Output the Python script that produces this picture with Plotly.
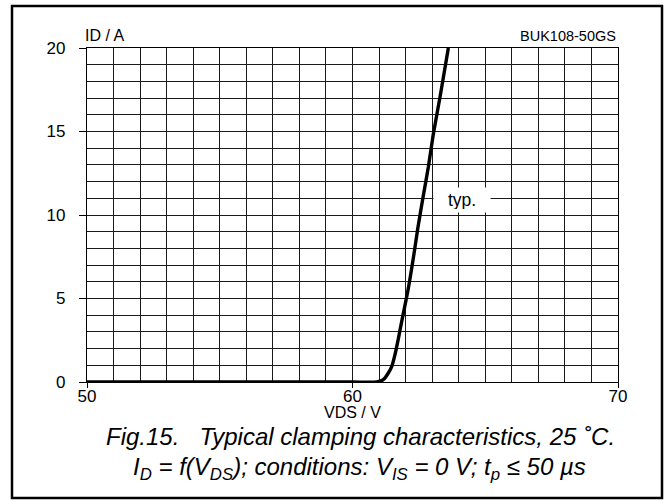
import plotly.graph_objects as go

# Data
vds = [50.0, 55.0, 60.0, 60.9, 61.16, 61.35, 61.48, 61.6, 61.72, 61.85, 62.09,
       62.28, 62.46, 62.65, 62.86, 63.04, 63.3, 63.61]
i_d = [0.0, 0.0, 0.0, 0.0, 0.14, 0.54, 0.94, 1.64, 2.54, 3.6, 5.5,
       7.3, 9.2, 11.0, 12.9, 14.8, 17.1, 20.0]

x_ticks = [50, 60, 70]
y_ticks = [0, 5, 10, 15, 20]

FONT = "Liberation Sans, Arial, sans-serif"

W, H = 665, 500
L, R, T, B = 87, 47, 48, 118
pw, ph = W - L - R, H - T - B


def px(x):
    return (x - L) / pw


def py(y):
    return (H - B - y) / ph


fig = go.Figure()
fig.add_trace(go.Scatter(x=vds, y=i_d, mode="lines",
                         line=dict(color="black", width=3.4, shape="spline", smoothing=0.6),
                         hoverinfo="skip", showlegend=False))

axis_common = dict(
    showline=True, linecolor="black", linewidth=1.2, mirror=True,
    showgrid=True, gridcolor="#1a1a1a", gridwidth=1,
    ticks="outside", tickcolor="black", tickwidth=1,
    tickfont=dict(family=FONT, size=17, color="black"),
    zeroline=False,
    minor=dict(dtick=1, showgrid=True, gridcolor="#1a1a1a", gridwidth=1, ticks=""),
)

fig.update_xaxes(range=[50, 70], tickvals=x_ticks, ticktext=[str(v) for v in x_ticks],
                 ticklen=5, ticklabelstandoff=-7, **axis_common)
fig.update_yaxes(range=[0, 20], tickvals=y_ticks, ticktext=[str(v) for v in y_ticks],
                 ticklen=7, ticklabelstandoff=10, **axis_common)

annotations = [
    dict(text="ID / A", x=px(83), y=py(36), xanchor="left", yanchor="middle",
         font=dict(family=FONT, size=16, color="black")),
    dict(text="BUK108-50GS", x=px(618), y=py(36), xanchor="right", yanchor="middle",
         font=dict(family=FONT, size=14.5, color="black")),
    dict(text="VDS / V", x=px(352), y=py(413), xanchor="center", yanchor="middle",
         font=dict(family=FONT, size=16, color="black")),
    dict(text="<i>Fig.15.   Typical clamping characteristics, 25 ˚C.</i>",
         x=px(360), y=py(436), xanchor="center", yanchor="middle",
         font=dict(family=FONT, size=24, color="black")),
    dict(text="<i>I<sub>D</sub> = f(V<sub>DS</sub>); conditions: V<sub>IS</sub> = 0 V; "
              "t<sub>p</sub> ≤ 50 µs</i>",
         x=px(359), y=py(468), xanchor="center", yanchor="middle",
         font=dict(family=FONT, size=24, color="black")),
    dict(text="typ.", x=px(461.5), y=py(200), xanchor="center", yanchor="middle",
         bgcolor="white", borderpad=3, width=50, height=18,
         font=dict(family=FONT, size=17.5, color="black")),
]
for a in annotations:
    a.update(xref="paper", yref="paper", showarrow=False)

fig.update_layout(
    width=W, height=H,
    margin=dict(l=L, r=R, t=T, b=B),
    paper_bgcolor="white", plot_bgcolor="white",
    annotations=annotations,
    shapes=[dict(type="rect", xref="paper", yref="paper",
                 x0=px(12), x1=px(662), y0=py(498), y1=py(6),
                 line=dict(color="black", width=2.5), layer="above")],
    showlegend=False,
)

fig.write_html("out.html", config={"displayModeBar": False},
               post_script="document.body.style.margin='0';document.body.style.padding='0';")
